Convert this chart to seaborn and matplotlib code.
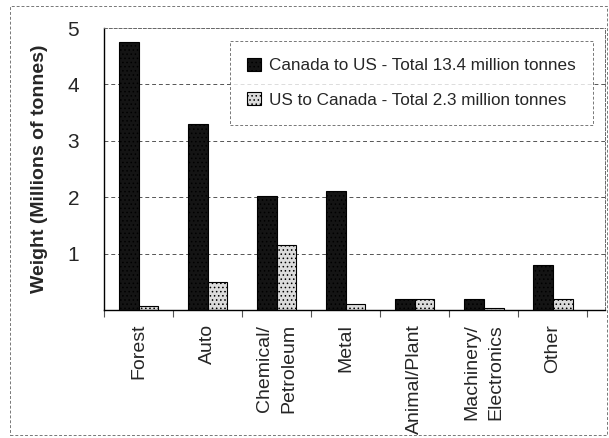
import pandas as pd
import matplotlib.pyplot as plt
import seaborn as sns
from matplotlib.patches import Rectangle

# Data
categories = ["Forest", "Auto", "Chemical/\nPetroleum", "Metal", "Animal/Plant",
              "Machinery/\nElectronics", "Other"]
canada_to_us = [4.75, 3.3, 2.03, 2.12, 0.2, 0.2, 0.8]
us_to_canada = [0.08, 0.5, 1.15, 0.1, 0.2, 0.04, 0.2]
series_names = ["Canada to US - Total 13.4 million tonnes",
                "US to Canada - Total 2.3 million tonnes"]

df = pd.DataFrame({
    "category": categories * 2,
    "weight": canada_to_us + us_to_canada,
    "flow": [series_names[0]] * len(categories) + [series_names[1]] * len(categories),
})

sns.set_theme(style="white")
plt.rcParams["font.family"] = ["Liberation Sans", "DejaVu Sans"]
plt.rcParams["hatch.color"] = "#808080"
plt.rcParams["hatch.linewidth"] = 0.6

fig = plt.figure(figsize=(6.09, 4.38), dpi=100)
ax = fig.add_axes([0.171, 0.292, 0.823, 0.644])

sns.barplot(ax=ax, data=df, x="category", y="weight", hue="flow",
            palette=["#141414", "#dcdcdc"], width=0.57, edgecolor="black",
            linewidth=0.8, saturation=1)

for bar in ax.patches:
    bar.set_hatch("....")

ax.set_ylim(0, 5)
ax.set_xlim(-0.5, 6.76)
ax.set_yticks([1, 2, 3, 4, 5])
ax.set_yticklabels(["1", "2", "3", "4", "5"], fontsize=15)
ax.set_xticks(range(len(categories)))
ax.set_xticklabels(categories, rotation=90, fontsize=14, va="top", ha="center",
                   linespacing=1.5)
ax.tick_params(axis="x", length=0, pad=10)
ax.tick_params(axis="y", length=0, pad=18)
ax.set_xticks([i - 0.5 for i in range(len(categories) + 1)], minor=True)
ax.tick_params(axis="x", which="minor", length=5, direction="out", width=0.8,
               color="#555555", bottom=True)

ax.set_xlabel("")
ax.set_ylabel("Weight (Millions of tonnes)", fontsize=14, fontweight="bold",
              labelpad=14)

for y in [1, 2, 3, 4]:
    ax.axhline(y, color="#555555", linestyle=(0, (4, 3)), linewidth=0.7, zorder=0)

ax.spines["left"].set_color("black")
ax.spines["bottom"].set_color("black")
ax.spines["left"].set_linewidth(1.0)
ax.spines["bottom"].set_linewidth(1.0)
for s in ["top", "right"]:
    ax.spines[s].set_color("#666666")
    ax.spines[s].set_linestyle((0, (3, 2)))
    ax.spines[s].set_linewidth(0.7)

leg = ax.legend(loc="upper right", bbox_to_anchor=(0.993, 0.985), fontsize=12.3,
                frameon=True, fancybox=False, edgecolor="#555555",
                handlelength=0.8, handleheight=0.8, handletextpad=0.5,
                labelspacing=1.1, borderpad=1.0)
leg.get_frame().set_linewidth(0.7)
leg.get_frame().set_linestyle((0, (3, 2)))

fig.patches.append(Rectangle((0.016, 0.007), 0.98, 0.98, transform=fig.transFigure,
                             fill=False, edgecolor="#777777", linewidth=0.7,
                             linestyle=(0, (3, 2))))

fig.savefig("out.png", dpi=100)
